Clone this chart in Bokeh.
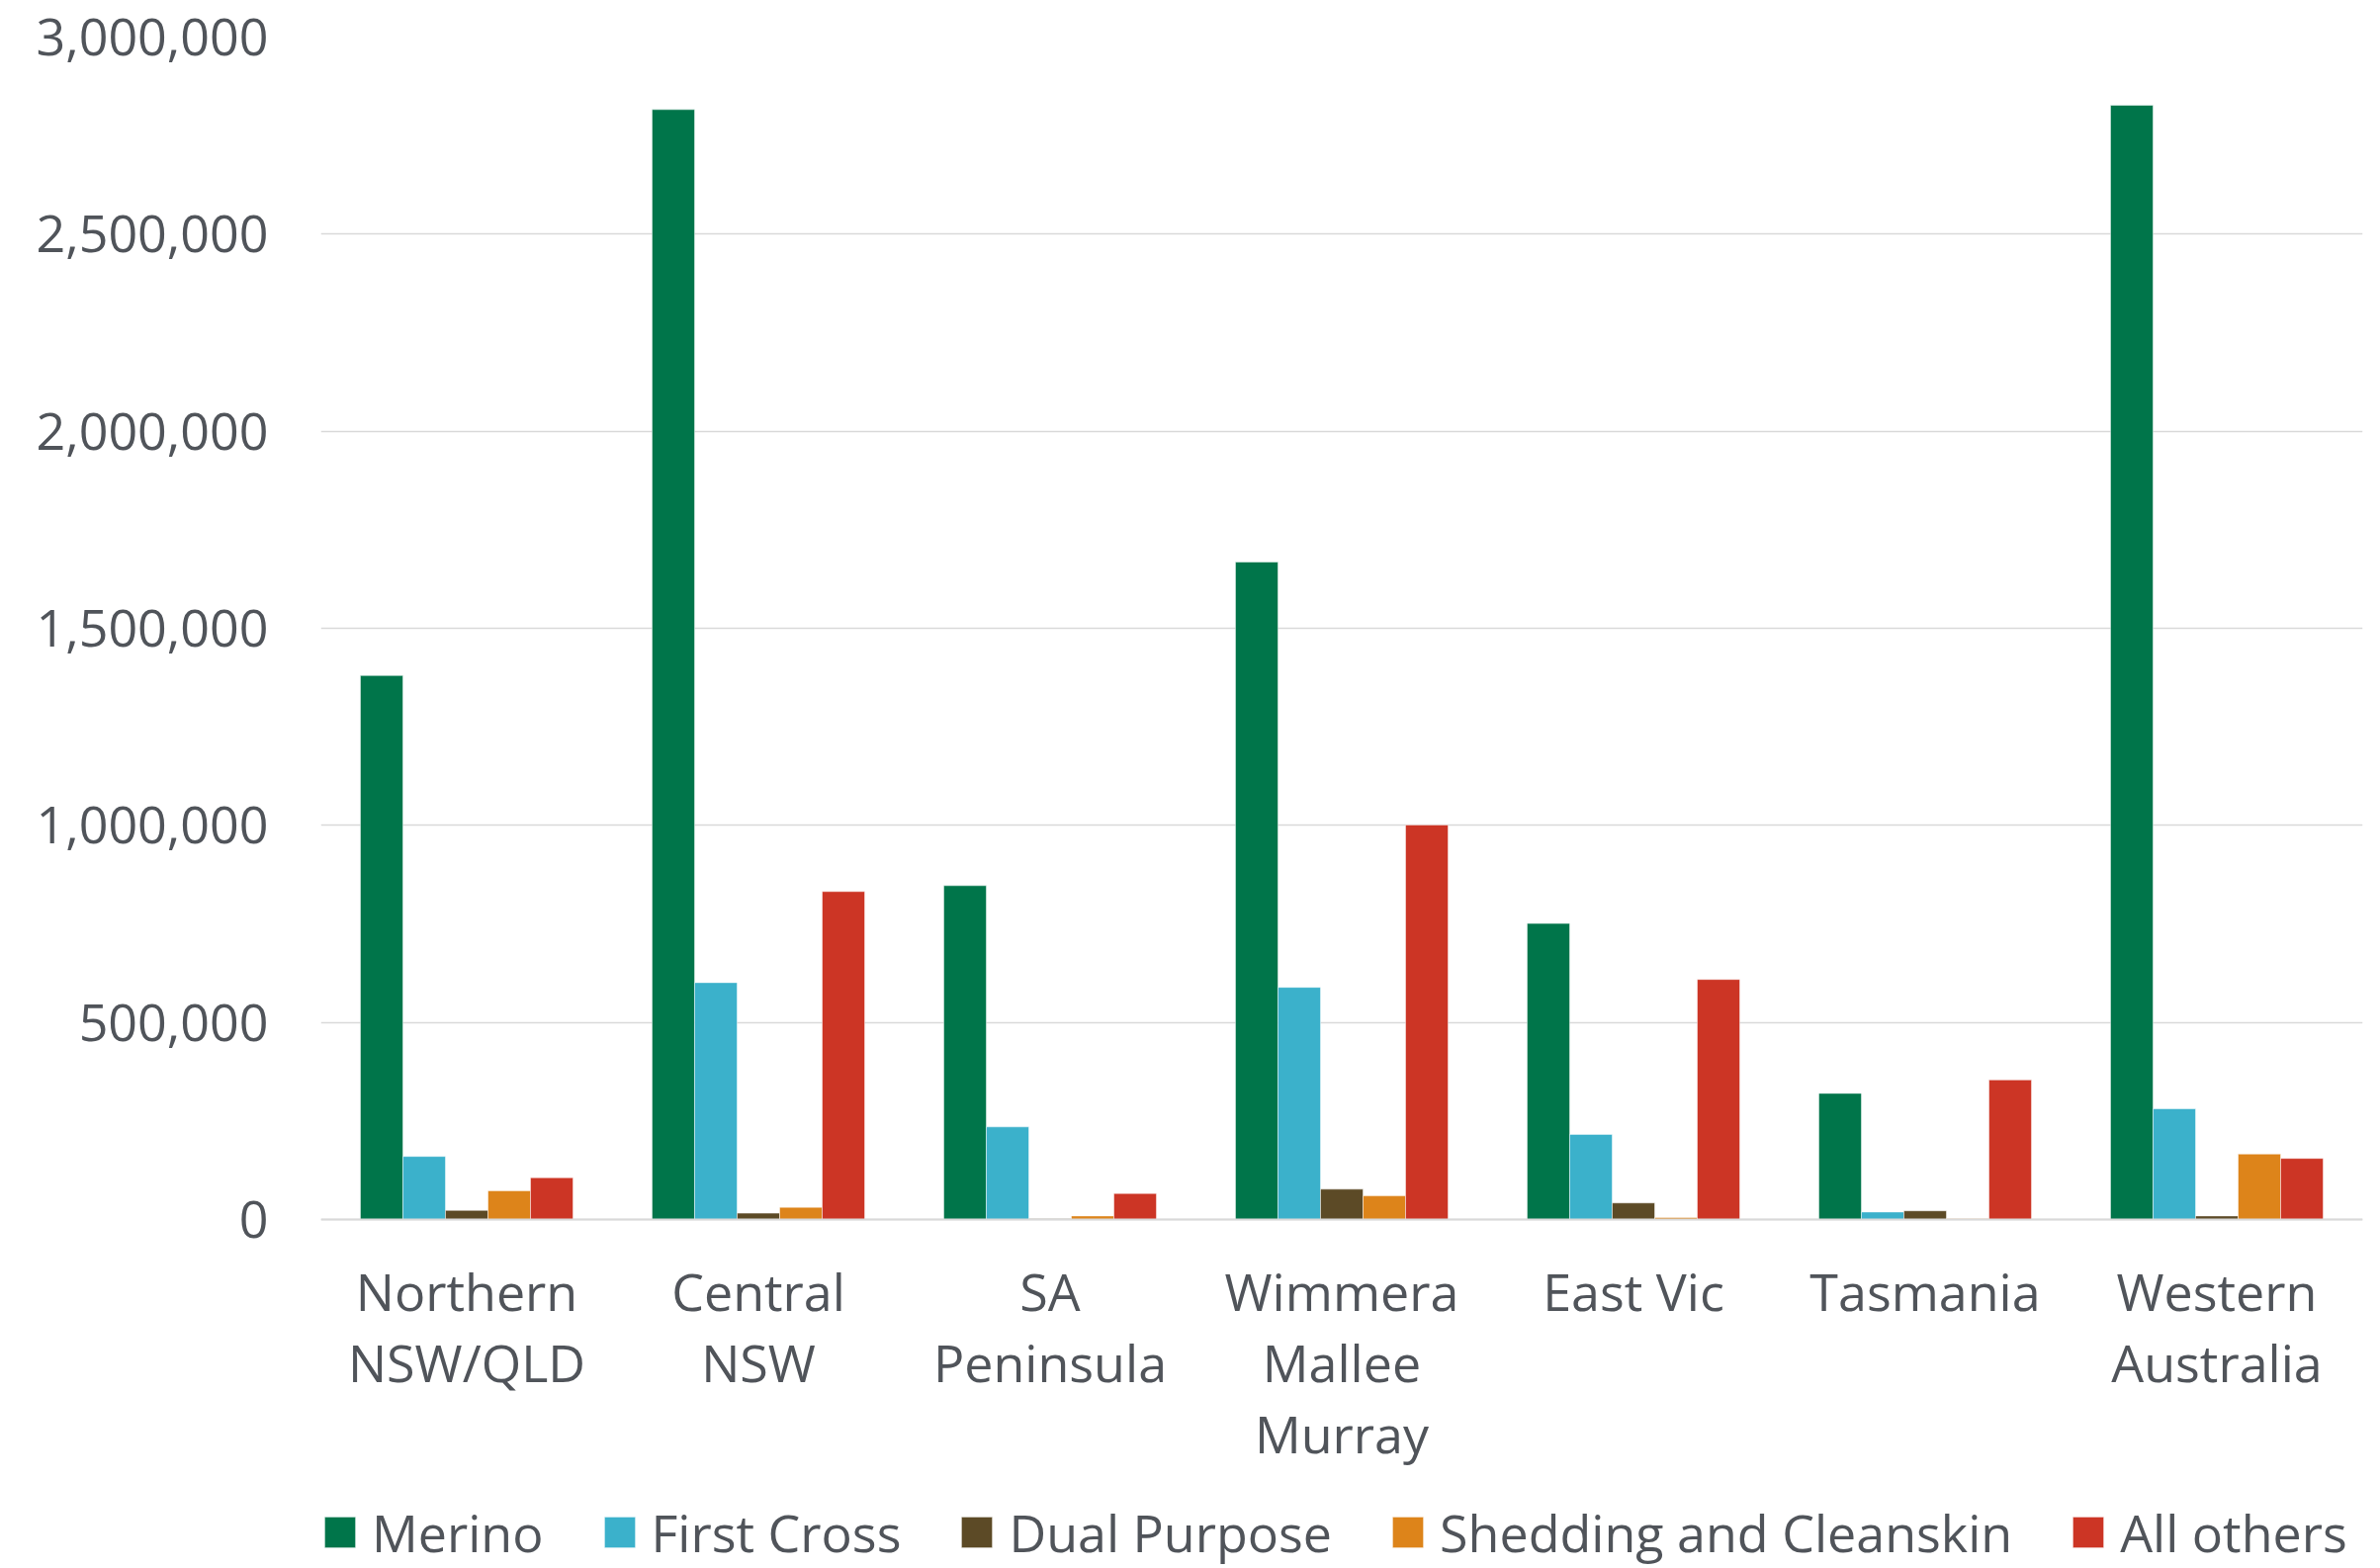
from bokeh.plotting import figure
from bokeh.models import (ColumnDataSource, Range1d, NumeralTickFormatter, Legend,
                          LegendItem, FixedTicker, LinearAxis)
from bokeh.transform import dodge
from bokeh.embed import file_html
from bokeh.resources import INLINE

regions = ["Northern NSW/QLD", "Central NSW", "SA Peninsula", "Wimmera Mallee Murray",
           "East Vic", "Tasmania", "Western Australia"]
label_line1 = ["Northern", "Central", "SA", "Wimmera", "East Vic", "Tasmania", "Western"]
label_line2 = ["NSW/QLD", "NSW", "Peninsula", "Mallee", "", "", "Australia"]
label_line3 = ["", "", "", "Murray", "", "", ""]
series = ["Merino", "First Cross", "Dual Purpose", "Shedding and Cleanskin", "All others"]
merino = [1380000, 2816000, 847000, 1668000, 751000, 320000, 2827000]
first_cross = [160000, 601000, 235000, 589000, 216000, 19000, 281000]
dual_purpose = [23000, 16000, 2000, 77000, 42000, 22000, 9000]
shedding = [73000, 31000, 9000, 60000, 5000, 2000, 166000]
all_others = [106000, 832000, 66000, 1001000, 609000, 354000, 155000]
colors = ["#00754a", "#3bb1cb", "#5c4a26", "#dd841a", "#cc3525"]
y_ticks = [0, 500000, 1000000, 1500000, 2000000, 2500000, 3000000]

FONT = "Open Sans"
TXT = "#50545a"
FS = "52px"

W, H = 2407, 1586
TOP, ZERO = 37, 1233          # pixel rows of the 3,000,000 and 0 gridlines
Y_MAX = 3000000
y_min = -Y_MAX * (H - ZERO) / (ZERO - TOP)   # frame runs to the bottom so labels/legend sit inside it

n = len(regions)
source = ColumnDataSource(dict(region=regions, pos=list(range(n)), merino=merino,
                               first_cross=first_cross, dual_purpose=dual_purpose,
                               shedding=shedding, all_others=all_others))
cols = ["merino", "first_cross", "dual_purpose", "shedding", "all_others"]

p = figure(x_range=Range1d(-0.5, n - 0.5), y_range=Range1d(y_min, Y_MAX),
           width=W, height=H, output_backend="svg", toolbar_location=None,
           x_axis_location=None,
           min_border_left=324, min_border_right=18, min_border_top=TOP, min_border_bottom=0)
p.outline_line_color = None
p.background_fill_color = "white"

bw = 0.1458
renderers = []
for i, (c, s, col) in enumerate(zip(cols, series, colors)):
    r = p.vbar(x=dodge("pos", (i - 2) * bw), top=c, width=bw, source=source,
               fill_color=col, line_color="white", line_width=0.8, line_alpha=0.6)
    renderers.append(r)

# y axis
yt = FixedTicker(ticks=y_ticks)
p.yaxis.ticker = yt
p.ygrid.ticker = yt
p.yaxis.formatter = NumeralTickFormatter(format="0,0")
p.yaxis.axis_line_color = None
p.yaxis.major_tick_line_color = None
p.yaxis.minor_tick_line_color = None
p.yaxis.major_tick_out = 0
p.yaxis.major_tick_in = 0
p.yaxis.major_label_standoff = 53
p.yaxis.major_label_text_font = FONT
p.yaxis.major_label_text_font_size = FS
p.yaxis.major_label_text_color = TXT

p.xgrid.grid_line_color = None
p.ygrid.grid_line_color = "#d9d9d9"
p.ygrid.grid_line_width = 1.5

# category labels: three stacked axes at y = 0, one per text line
xt = FixedTicker(ticks=list(range(n)))
for k, (lines, standoff) in enumerate([(label_line1, 36), (label_line2, 108), (label_line3, 180)]):
    ax = LinearAxis(ticker=xt, fixed_location=0,
                    major_label_overrides={i: t for i, t in enumerate(lines)})
    ax.axis_line_color = "#d9d9d9" if k == 0 else None
    ax.axis_line_width = 2
    ax.major_tick_line_color = None
    ax.minor_tick_line_color = None
    ax.major_tick_out = 0
    ax.major_tick_in = 0
    ax.major_label_standoff = standoff
    ax.major_label_text_font = FONT
    ax.major_label_text_font_size = FS
    ax.major_label_text_color = TXT
    p.add_layout(ax, "below")

legend = Legend(items=[LegendItem(label=s, renderers=[r]) for s, r in zip(series, renderers)],
                orientation="horizontal", location=(0, 1), margin=0,
                label_text_font=FONT, label_text_font_size=FS, label_text_color=TXT,
                glyph_width=39, glyph_height=39, label_height=39, label_standoff=13,
                spacing=57, padding=0,
                border_line_color=None, background_fill_alpha=0)
p.add_layout(legend, "center")

open("out.html", "w").write(file_html(p, INLINE))
